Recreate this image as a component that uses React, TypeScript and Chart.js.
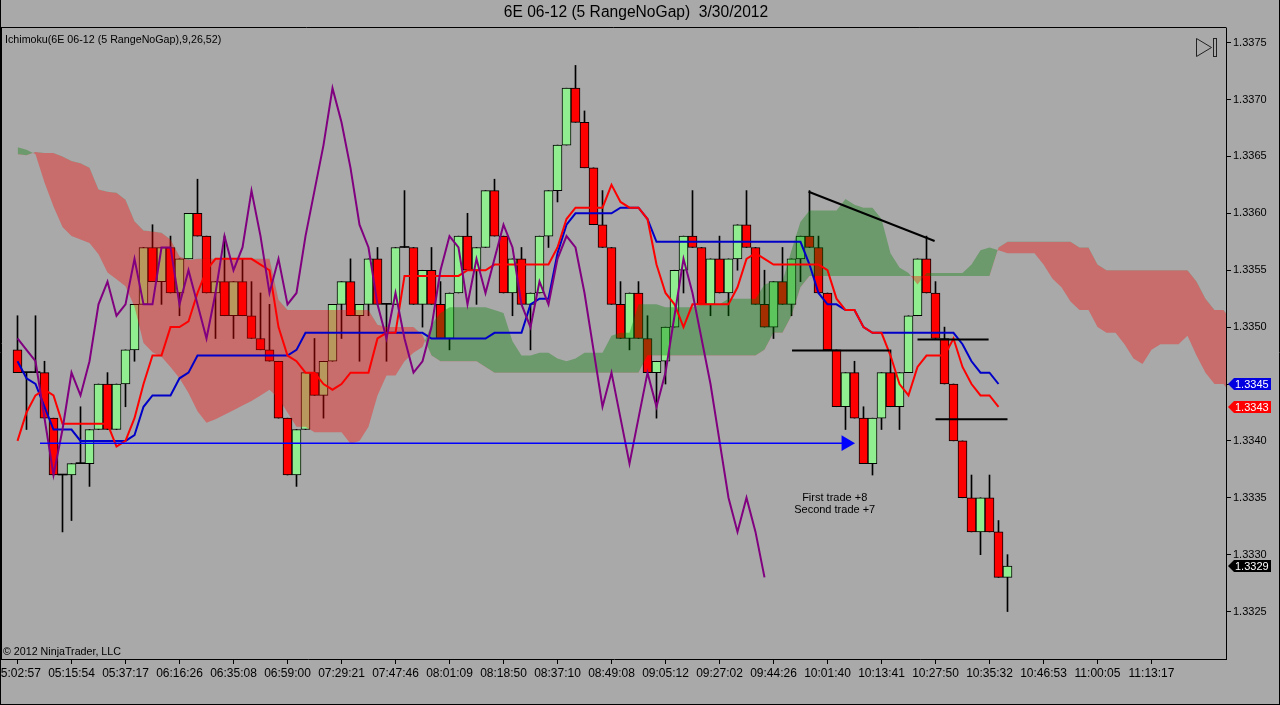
import React, { useEffect, useRef } from "react";
import { Chart, registerables } from "chart.js";
Chart.register(...registerables);

// ---- candle data (5 RangeNoGap bars), price values ----
const opens = [
  1.3348, 1.3346, 1.3346, 1.3346, 1.3342, 1.3337, 1.3337, 1.3338, 1.3338, 1.3341,
  1.3345, 1.3341, 1.3345, 1.3348, 1.3352, 1.3357, 1.3354, 1.3357, 1.3353, 1.3356,
  1.3360, 1.3358, 1.3353, 1.3354, 1.3351, 1.3354, 1.3351, 1.3349, 1.3348, 1.3347,
  1.3342, 1.3337, 1.3341, 1.3346, 1.3344, 1.3347, 1.3352, 1.3354, 1.3351, 1.3352,
  1.3356, 1.3352, 1.3352, 1.3357, 1.3357, 1.3352, 1.3355, 1.3352, 1.3349, 1.3353,
  1.3358, 1.3355, 1.3357, 1.3362, 1.3358, 1.3353, 1.3356, 1.3352, 1.3353, 1.3358,
  1.3362, 1.3366, 1.3371, 1.3368, 1.3364, 1.3359, 1.3357, 1.3352, 1.3349, 1.3353,
  1.3349, 1.3346, 1.3347, 1.3350, 1.3355, 1.3358, 1.3357, 1.3352, 1.3356, 1.3353,
  1.3356, 1.3359, 1.3357, 1.3352, 1.3350, 1.3354, 1.3352, 1.3356, 1.3358, 1.3357,
  1.3353, 1.3348, 1.3343, 1.3346, 1.3342, 1.3338, 1.3342, 1.3346, 1.3343, 1.3346,
  1.3351, 1.3356, 1.3353, 1.3349, 1.3345, 1.3340, 1.3335, 1.3332, 1.3335, 1.3332, 1.3328,
];
const highs = [
  1.3351, 1.3346, 1.3351, 1.3347, 1.3342, 1.3337, 1.3338, 1.3343, 1.3341, 1.3345,
  1.3346, 1.3345, 1.3348, 1.3352, 1.3357, 1.3359, 1.3357, 1.3358, 1.3356, 1.3360,
  1.3363, 1.3358, 1.3354, 1.3358, 1.3354, 1.3356, 1.3354, 1.3353, 1.3352, 1.3347,
  1.3342, 1.3341, 1.3346, 1.3349, 1.3347, 1.3352, 1.3354, 1.3356, 1.3352, 1.3356,
  1.3357, 1.3352, 1.3357, 1.3362, 1.3357, 1.3355, 1.3357, 1.3354, 1.3353, 1.3358,
  1.3360, 1.3357, 1.3362, 1.3363, 1.3358, 1.3356, 1.3357, 1.3353, 1.3358, 1.3362,
  1.3366, 1.3371, 1.3373, 1.3369, 1.3364, 1.3362, 1.3357, 1.3354, 1.3353, 1.3354,
  1.3351, 1.3347, 1.3350, 1.3355, 1.3358, 1.3362, 1.3357, 1.3356, 1.3358, 1.3356,
  1.3359, 1.3362, 1.3357, 1.3355, 1.3354, 1.3357, 1.3356, 1.3358, 1.3362, 1.3358,
  1.3353, 1.3348, 1.3346, 1.3347, 1.3343, 1.3342, 1.3346, 1.3348, 1.3346, 1.3351,
  1.3356, 1.3358, 1.3354, 1.3350, 1.3345, 1.3340, 1.3337, 1.3335, 1.3337, 1.3333, 1.3330,
];
const lows = [
  1.3346, 1.3341, 1.3346, 1.3342, 1.3337, 1.3332, 1.3333, 1.3338, 1.3336, 1.3341,
  1.3341, 1.3341, 1.3343, 1.3347, 1.3352, 1.3354, 1.3352, 1.3353, 1.3351, 1.3356,
  1.3358, 1.3353, 1.3349, 1.3351, 1.3349, 1.3351, 1.3349, 1.3348, 1.3347, 1.3342,
  1.3337, 1.3336, 1.3341, 1.3344, 1.3342, 1.3347, 1.3349, 1.3351, 1.3347, 1.3351,
  1.3352, 1.3347, 1.3352, 1.3357, 1.3352, 1.3350, 1.3352, 1.3349, 1.3348, 1.3353,
  1.3355, 1.3352, 1.3357, 1.3358, 1.3353, 1.3351, 1.3352, 1.3348, 1.3353, 1.3357,
  1.3361, 1.3366, 1.3368, 1.3364, 1.3359, 1.3357, 1.3352, 1.3349, 1.3348, 1.3349,
  1.3346, 1.3342, 1.3345, 1.3350, 1.3353, 1.3357, 1.3352, 1.3351, 1.3353, 1.3351,
  1.3355, 1.3357, 1.3352, 1.3350, 1.3349, 1.3352, 1.3351, 1.3354, 1.3357, 1.3353,
  1.3348, 1.3343, 1.3341, 1.3342, 1.3338, 1.3337, 1.3341, 1.3343, 1.3341, 1.3346,
  1.3351, 1.3353, 1.3349, 1.3345, 1.3340, 1.3335, 1.3332, 1.3330, 1.3332, 1.3328, 1.3325,
];
const closes = [
  1.3346, 1.3346, 1.3346, 1.3342, 1.3337, 1.3337, 1.3338, 1.3338, 1.3341, 1.3345,
  1.3341, 1.3345, 1.3348, 1.3352, 1.3357, 1.3354, 1.3357, 1.3353, 1.3356, 1.3360,
  1.3358, 1.3353, 1.3354, 1.3351, 1.3354, 1.3351, 1.3349, 1.3348, 1.3347, 1.3342,
  1.3337, 1.3341, 1.3346, 1.3344, 1.3347, 1.3352, 1.3354, 1.3351, 1.3352, 1.3356,
  1.3352, 1.3352, 1.3357, 1.3357, 1.3352, 1.3355, 1.3352, 1.3349, 1.3353, 1.3358,
  1.3355, 1.3357, 1.3362, 1.3358, 1.3353, 1.3356, 1.3352, 1.3353, 1.3358, 1.3362,
  1.3366, 1.3371, 1.3368, 1.3364, 1.3359, 1.3357, 1.3352, 1.3349, 1.3353, 1.3349,
  1.3346, 1.3347, 1.3350, 1.3355, 1.3358, 1.3357, 1.3352, 1.3356, 1.3353, 1.3356,
  1.3359, 1.3357, 1.3352, 1.3350, 1.3354, 1.3352, 1.3356, 1.3358, 1.3357, 1.3353,
  1.3348, 1.3343, 1.3346, 1.3342, 1.3338, 1.3342, 1.3346, 1.3343, 1.3346, 1.3351,
  1.3356, 1.3353, 1.3349, 1.3345, 1.3340, 1.3335, 1.3332, 1.3335, 1.3332, 1.3328, 1.3329,
];

// ---- Ichimoku plots ----
const tenkan = [
  1.3340, 1.33425, 1.3344, 1.33445, 1.3344, 1.33415, 1.33415, 1.33415, 1.33415, 1.33415,
  1.33415, 1.33395, 1.3340, 1.3342, 1.3345, 1.33475, 1.33475, 1.3350, 1.3350, 1.33505,
  1.3353, 1.3355, 1.3356, 1.3356, 1.3356, 1.3356, 1.3356, 1.33555, 1.3355, 1.3350,
  1.33475, 1.3347, 1.3346, 1.3346, 1.3345, 1.33445, 1.3345, 1.3346, 1.3346, 1.3346,
  1.3349, 1.33495, 1.33495, 1.33545, 1.33545, 1.33545, 1.33545, 1.33545, 1.33545, 1.33545,
  1.3355, 1.3355, 1.3355, 1.33555, 1.33555, 1.33555, 1.33555, 1.33555, 1.33555, 1.33555,
  1.3357, 1.33595, 1.33605, 1.33605, 1.33605, 1.33605, 1.33625, 1.3361, 1.33605, 1.33605,
  1.33595, 1.33555, 1.3353, 1.3352, 1.3350, 1.3352, 1.3352, 1.3352, 1.3352, 1.3352,
  1.33535, 1.3356, 1.33565, 1.3356, 1.33555, 1.33555, 1.33555, 1.33555, 1.33555, 1.33555,
  1.3355, 1.33525, 1.33515, 1.33515, 1.3350, 1.33495, 1.33495, 1.33475, 1.3345, 1.3344,
  1.33465, 1.33475, 1.33475, 1.33475, 1.3349, 1.33465, 1.3345, 1.3344, 1.3344, 1.3343,
];
const kijun = [
  1.3347, 1.33455, 1.3345, 1.3343, 1.3341, 1.3341, 1.3341, 1.3340, 1.3340, 1.3340,
  1.3340, 1.3340, 1.3340, 1.33405, 1.3343, 1.3344, 1.3344, 1.3344, 1.33455, 1.3346,
  1.33475, 1.33475, 1.33475, 1.33475, 1.33475, 1.33475, 1.33475, 1.33475, 1.33475, 1.33475,
  1.33475, 1.3348, 1.33495, 1.33495, 1.33495, 1.33495, 1.33495, 1.33495, 1.33495, 1.33495,
  1.33495, 1.33495, 1.33495, 1.33495, 1.33495, 1.33495, 1.3349, 1.3349, 1.3349, 1.3349,
  1.3349, 1.3349, 1.3349, 1.33495, 1.33495, 1.33495, 1.33495, 1.3352, 1.33525, 1.33525,
  1.33565, 1.3359, 1.3360, 1.3360, 1.3360, 1.3360, 1.3360, 1.33605, 1.33605, 1.33605,
  1.33595, 1.33575, 1.33575, 1.33575, 1.33575, 1.33575, 1.33575, 1.33575, 1.33575, 1.33575,
  1.33575, 1.33575, 1.33575, 1.33575, 1.33575, 1.33575, 1.33575, 1.33575, 1.33555, 1.3353,
  1.3352, 1.3352, 1.33515, 1.33515, 1.3350, 1.33495, 1.33495, 1.33495, 1.33495, 1.33495,
  1.33495, 1.33495, 1.33495, 1.33495, 1.33495, 1.33485, 1.3347, 1.3346, 1.3346, 1.3345,
];
const chikou = [
  1.3349, 1.3348, 1.3347, 1.3342, 1.3337, 1.3341, 1.3346, 1.3344, 1.3347, 1.3352,
  1.3354, 1.3351, 1.3352, 1.3356, 1.3352, 1.3352, 1.3357, 1.3357, 1.3352, 1.3355,
  1.3352, 1.3349, 1.3353, 1.3358, 1.3355, 1.3357, 1.3362, 1.3358, 1.3353, 1.3356,
  1.3352, 1.3353, 1.3358, 1.3362, 1.3366, 1.3371, 1.3368, 1.3364, 1.3359, 1.3357,
  1.3352, 1.3349, 1.3353, 1.3349, 1.3346, 1.3347, 1.3350, 1.3355, 1.3358, 1.3357,
  1.3352, 1.3356, 1.3353, 1.3356, 1.3359, 1.3357, 1.3352, 1.3350, 1.3354, 1.3352,
  1.3356, 1.3358, 1.3357, 1.3353, 1.3348, 1.3343, 1.3346, 1.3342, 1.3338, 1.3342,
  1.3346, 1.3343, 1.3346, 1.3351, 1.3356, 1.3353, 1.3349, 1.3345, 1.3340, 1.3335,
  1.3332, 1.3335, 1.3332, 1.3328,
];
const senkouA = [
  1.33658, 1.33656, 1.33652, 1.33627, 1.33606, 1.33588, 1.3358, 1.33577, 1.33574, 1.33564,
  1.33548, 1.33542, 1.33536, 1.33518, 1.33486, 1.33478, 1.33474, 1.33465, 1.33455, 1.33442,
  1.33426, 1.33416, 1.33419, 1.33423, 1.33427, 1.33431, 1.33435, 1.3344, 1.33445, 1.334375,
  1.33425, 1.334125, 1.334125, 1.334075, 1.334075, 1.334075, 1.334075, 1.333975, 1.3340, 1.334125,
  1.3344, 1.334575, 1.334575, 1.3347, 1.334775, 1.334825, 1.335025, 1.335125, 1.335175, 1.335175,
  1.335175, 1.335175, 1.335175, 1.33515, 1.335125, 1.334875, 1.33475, 1.33475, 1.334775, 1.334775,
  1.334725, 1.3347, 1.334725, 1.334775, 1.334775, 1.334775, 1.334925, 1.33495, 1.33495, 1.3352,
  1.3352, 1.3352, 1.335175, 1.335175, 1.335175, 1.335175, 1.3352, 1.3352, 1.3352, 1.33525,
  1.33525, 1.33525, 1.33525, 1.335375, 1.3354, 1.3354, 1.335675, 1.335925, 1.336025, 1.336025,
  1.336025, 1.336025, 1.336125, 1.336075, 1.33605, 1.33605, 1.33595, 1.33565, 1.335525, 1.335475,
  1.335375, 1.335475, 1.335475, 1.335475, 1.335475, 1.335475, 1.33555, 1.335675, 1.3357, 1.335675,
  1.33565, 1.33565, 1.33565, 1.33565, 1.33555, 1.335425, 1.33535, 1.335225, 1.33515, 1.33515,
  1.3350, 1.33495, 1.33495, 1.33485, 1.334725, 1.334675, 1.3348, 1.33485, 1.33485, 1.33485,
  1.334925, 1.33475, 1.3346, 1.3345, 1.3345, 1.3344,
];
const senkouB = [
  1.33652, 1.33651, 1.33654, 1.33653, 1.33653, 1.3365, 1.33646, 1.33644, 1.3364, 1.33621,
  1.33619, 1.33618, 1.33612, 1.33593, 1.33585, 1.33584, 1.33583, 1.33577, 1.33562, 1.33559,
  1.3356, 1.3356, 1.3356, 1.3356, 1.3356, 1.3356, 1.3356, 1.3356, 1.3356, 1.33524,
  1.33515, 1.33515, 1.33515, 1.33515, 1.33515, 1.33515, 1.33515, 1.33515, 1.33515, 1.33515,
  1.33502, 1.3350, 1.3350, 1.3350, 1.3350, 1.33493, 1.33475, 1.3347, 1.3347, 1.3347,
  1.3347, 1.3347, 1.33465, 1.3346, 1.3346, 1.3346, 1.3346, 1.3346, 1.3346, 1.3346,
  1.3346, 1.3346, 1.3346, 1.3346, 1.3346, 1.3346, 1.3346, 1.3346, 1.3346, 1.3346,
  1.33475, 1.33475, 1.33475, 1.33475, 1.33475, 1.33475, 1.33475, 1.33475, 1.33475, 1.33475,
  1.33475, 1.33475, 1.33475, 1.3348, 1.33495, 1.33495, 1.3351, 1.33535, 1.33545, 1.33545,
  1.33545, 1.33545, 1.33545, 1.33545, 1.33545, 1.33545, 1.33545, 1.33545, 1.33545, 1.33545,
  1.33545, 1.33545, 1.33545, 1.33545, 1.33545, 1.33545, 1.33545, 1.33545, 1.33545, 1.3357,
  1.33575, 1.33575, 1.33575, 1.33575, 1.33575, 1.33575, 1.33575, 1.33575, 1.3357, 1.3357,
  1.33555, 1.3355, 1.3355, 1.3355, 1.3355, 1.3355, 1.3355, 1.3355, 1.3355, 1.3355,
  1.3355, 1.3354, 1.33525, 1.33515, 1.33515, 1.33505,
];

// ---- axes ----
const tickBars = [1, 7, 13, 19, 25, 31, 37, 43, 49, 55, 61, 67, 73, 79, 85, 91, 97, 103, 109, 115, 121, 127];
const tickLabels = [
  "05:02:57", "05:15:54", "05:37:17", "06:16:26", "06:35:08", "06:59:00", "07:29:21", "07:47:46",
  "08:01:09", "08:18:50", "08:37:10", "08:49:08", "09:05:12", "09:27:02", "09:44:26", "10:01:40",
  "10:13:41", "10:27:50", "10:35:32", "10:46:53", "11:00:05", "11:13:17",
];
const priceTicks = [1.3325, 1.333, 1.3335, 1.334, 1.3345, 1.335, 1.3355, 1.336, 1.3365, 1.337, 1.3375];

// ---- drawing objects on the chart ----
const lineStartSlots = [88.9, 87.06, 101.0, 103.0];
const lineEndSlots = [102.9, 97.9, 108.9, 111.0];
const lineStartPrices = [1.33619, 1.334795, 1.334891, 1.33419];
const lineEndPrices = [1.335757, 1.334795, 1.334891, 1.33419];
const arrowSlots = [3.5, 93.06];
const arrowPrice = 1.33398;
const noteSlot = 91.8;
const notePrice = 1.3335;
const noteLines = ["First trade +8", "Second trade +7"];

const titleText = "6E 06-12 (5 RangeNoGap)  3/30/2012";
const indicatorLabel = "Ichimoku(6E 06-12 (5 RangeNoGap),9,26,52)";
const copyrightText = "\u00A9 2012 NinjaTrader, LLC";

const FONT = "'Liberation Sans', Arial, Helvetica, sans-serif";
const BG = "#A9A9A9";

export default function App() {
  const canvasRef = useRef<HTMLCanvasElement | null>(null);

  useEffect(() => {
    document.body.style.margin = "0";
    document.body.style.background = BG;
    const canvas = canvasRef.current;
    if (!canvas) return;

    const slot = (i: number) => i + 1;
    const toPts = (arr: number[]) => arr.map((v, i) => ({ x: slot(i), y: v }));
    const bodies = opens.map((o, i) => ({ x: slot(i), y: [o, closes[i]] }));
    const wicks = lows.map((l, i) => ({ x: slot(i), y: [l, highs[i]] }));
    const isDoji = (i: number) => opens[i] === closes[i];

    const drawnLines = lineStartSlots.map((s, k) => ({
      type: "line" as const,
      data: [
        { x: s, y: lineStartPrices[k] },
        { x: lineEndSlots[k], y: lineEndPrices[k] },
      ],
      borderColor: "#000",
      borderWidth: 2,
      pointRadius: 0,
      fill: false,
      order: 0,
    }));

    const extras = {
      id: "extras",
      beforeDraw(chart: any) {
        const ctx = chart.ctx;
        ctx.save();
        ctx.fillStyle = BG;
        ctx.fillRect(0, 0, chart.width, chart.height);
        ctx.restore();
      },
      afterDraw(chart: any) {
        const { ctx, chartArea: ca, scales } = chart;
        const xs = scales.x;
        const ys = scales.y;
        ctx.save();
        // frames
        ctx.strokeStyle = "#000";
        ctx.lineWidth = 1;
        ctx.beginPath();
        ctx.moveTo(0, ca.top - 0.5);
        ctx.lineTo(ca.right + 0.5, ca.top - 0.5);
        ctx.moveTo(0.5, 0);
        ctx.lineTo(0.5, chart.height);
        ctx.moveTo(1.5, ca.top);
        ctx.lineTo(1.5, ca.bottom);
        ctx.moveTo(0, chart.height - 0.5);
        ctx.lineTo(chart.width, chart.height - 0.5);
        ctx.moveTo(chart.width - 0.5, 0);
        ctx.lineTo(chart.width - 0.5, chart.height);
        ctx.moveTo(0, ca.bottom + 0.5);
        ctx.lineTo(ca.left, ca.bottom + 0.5);
        ctx.stroke();

        // title and labels
        ctx.fillStyle = "#000";
        ctx.textBaseline = "middle";
        ctx.textAlign = "center";
        ctx.font = `15.6px ${FONT}`;
        ctx.fillText(titleText, 636, 13);
        ctx.textAlign = "left";
        ctx.font = `10.7px ${FONT}`;
        ctx.fillText(indicatorLabel, 5, 40);
        ctx.fillText(copyrightText, 3, 652);

        // note text
        ctx.textAlign = "center";
        ctx.font = `11px ${FONT}`;
        const nx = xs.getPixelForValue(noteSlot);
        const ny = ys.getPixelForValue(notePrice);
        noteLines.forEach((t, k) => ctx.fillText(t, nx, ny + k * 12));

        // icon top right
        ctx.strokeStyle = "#222";
        ctx.lineWidth = 1;
        ctx.beginPath();
        ctx.moveTo(1196.5, 38.5);
        ctx.lineTo(1196.5, 56.5);
        ctx.lineTo(1211.5, 47.5);
        ctx.closePath();
        ctx.stroke();
        ctx.strokeRect(1213.5, 38.5, 3, 18);

        // last-value badges
        const badges = [
          { v: kijun[kijun.length - 1], c: "#0000E0" },
          { v: tenkan[tenkan.length - 1], c: "#FF0000" },
          { v: closes[closes.length - 1], c: "#000000" },
        ];
        ctx.font = `11px ${FONT}`;
        ctx.textAlign = "left";
        badges.forEach((b) => {
          const y = Math.round(ys.getPixelForValue(b.v));
          const x0 = ca.right + 2;
          ctx.fillStyle = b.c;
          ctx.beginPath();
          ctx.moveTo(x0, y);
          ctx.lineTo(x0 + 6, y - 6);
          ctx.lineTo(x0 + 43, y - 6);
          ctx.lineTo(x0 + 43, y + 6);
          ctx.lineTo(x0 + 6, y + 6);
          ctx.closePath();
          ctx.fill();
          ctx.fillStyle = "#FFFFFF";
          ctx.fillText(b.v.toFixed(4), x0 + 7, y + 0.5);
        });
        ctx.restore();
      },
    };

    const chart = new Chart(canvas, {
      type: "bar",
      data: {
        datasets: [
          {
            type: "line",
            data: arrowSlots.map((s) => ({ x: s, y: arrowPrice })),
            borderColor: "#0000FF",
            backgroundColor: "#0000FF",
            borderWidth: 1.5,
            pointRadius: (c: any) => (c.dataIndex === 1 ? 9 : 0),
            pointStyle: "triangle",
            rotation: 90,
            pointBorderWidth: 0,
            fill: false,
            order: 0,
          },
          ...drawnLines,
          {
            type: "line",
            data: toPts(chikou),
            borderColor: "#800080",
            borderWidth: 2,
            pointRadius: 0,
            fill: false,
            order: 1,
          },
          {
            type: "line",
            data: toPts(tenkan),
            borderColor: "#FF0000",
            borderWidth: 2,
            pointRadius: 0,
            fill: false,
            order: 2,
          },
          {
            type: "line",
            data: toPts(kijun),
            borderColor: "#0000C8",
            borderWidth: 2,
            pointRadius: 0,
            fill: false,
            order: 3,
          },
          {
            type: "line",
            data: toPts(senkouA),
            borderColor: "rgba(0,0,0,0)",
            borderWidth: 0,
            pointRadius: 0,
            fill: { target: "+1", above: "rgba(0,128,0,0.36)", below: "rgba(255,0,0,0.36)" },
            order: 5,
          },
          {
            type: "line",
            data: toPts(senkouB),
            borderColor: "rgba(0,0,0,0)",
            borderWidth: 0,
            pointRadius: 0,
            fill: false,
            order: 6,
          },
          {
            type: "bar",
            data: bodies,
            barThickness: 9,
            grouped: false,
            minBarLength: 1,
            borderSkipped: false,
            backgroundColor: (c: any) =>
              isDoji(c.dataIndex) ? "#000000" : closes[c.dataIndex] > opens[c.dataIndex] ? "#90EE90" : "#FF0000",
            borderColor: "#000000",
            borderWidth: (c: any) => (isDoji(c.dataIndex) ? 0 : 1),
            order: 8,
          },
          {
            type: "bar",
            data: wicks,
            barThickness: 1,
            grouped: false,
            backgroundColor: "#000000",
            borderWidth: 0,
            order: 9,
          },
        ] as any,
      },
      options: {
        responsive: false,
        animation: false,
        events: [],
        devicePixelRatio: 1,
        layout: { autoPadding: false, padding: { left: 2, top: 28, right: 0, bottom: 0 } },
        plugins: {
          legend: { display: false },
          tooltip: { enabled: false },
          title: { display: false },
        },
        scales: {
          x: {
            type: "linear",
            min: -0.7222,
            max: 135.278,
            offset: false,
            grid: { display: true, drawOnChartArea: false, drawTicks: true, tickLength: 5, color: "#000", offset: false },
            border: { display: true, color: "#000", width: 1 },
            ticks: {
              autoSkip: false,
              maxRotation: 0,
              minRotation: 0,
              padding: 2,
              color: "#000",
              font: { family: FONT, size: 12 },
              callback: (_v: any, index: number) => tickLabels[index] ?? "",
            },
            afterBuildTicks: (s: any) => {
              s.ticks = tickBars.map((v) => ({ value: v }));
            },
            afterFit: (s: any) => {
              s.height = 46;
              s.paddingLeft = 0;
              s.paddingRight = 0;
            },
          },
          y: {
            type: "linear",
            position: "right",
            min: 1.332083,
            max: 1.337629,
            grid: { display: true, drawOnChartArea: false, drawTicks: true, tickLength: 5, color: "#000" },
            border: { display: true, color: "#000", width: 1 },
            ticks: {
              padding: 2,
              color: "#000",
              font: { family: FONT, size: 11 },
              callback: (v: any) => Number(v).toFixed(4),
            },
            afterBuildTicks: (s: any) => {
              s.ticks = priceTicks.map((v) => ({ value: v }));
            },
            afterFit: (s: any) => {
              s.width = 54;
              s.paddingTop = 0;
              s.paddingBottom = 0;
            },
          },
        },
      } as any,
      plugins: [extras],
    });

    return () => chart.destroy();
  }, []);

  return <canvas ref={canvasRef} width={1280} height={705} style={{ display: "block", width: 1280, height: 705 }} />;
}
